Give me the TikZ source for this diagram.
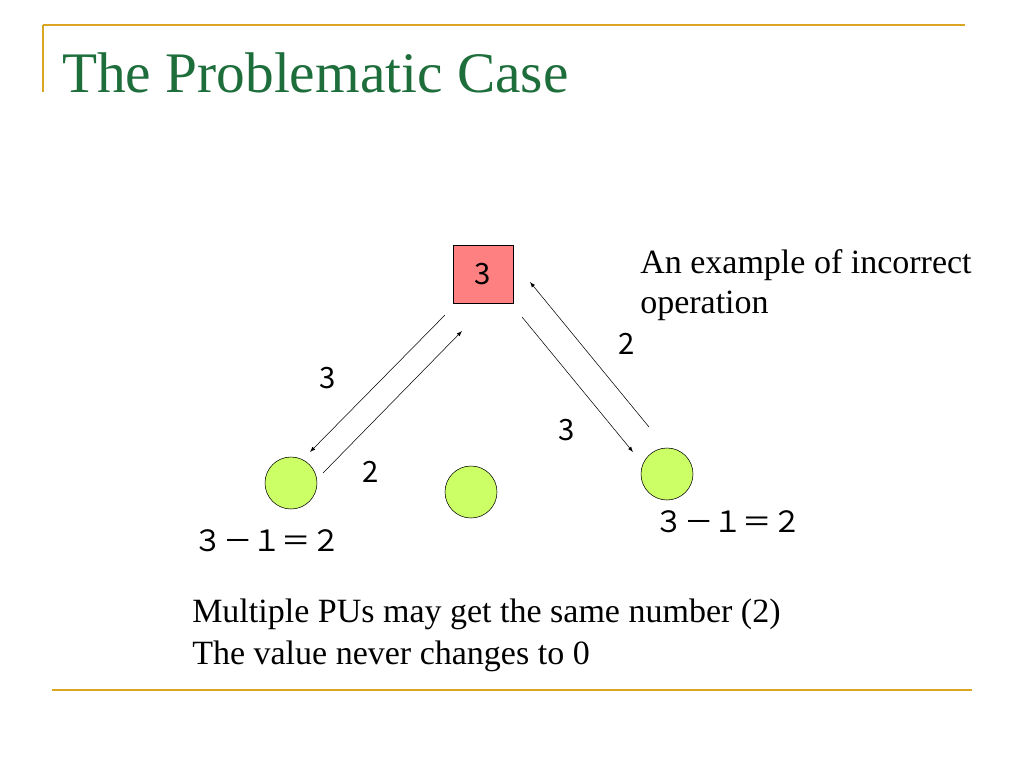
\documentclass[tikz,border=0pt]{standalone}
\usepackage{fontspec}
\setmainfont{Liberation Serif}
\newfontfamily\cjk{Noto Sans CJK JP}
\definecolor{gold}{RGB}{218,165,32}
\definecolor{ttl}{RGB}{30,110,60}
\definecolor{sq}{RGB}{255,128,128}
\definecolor{ball}{RGB}{204,255,102}
\begin{document}
\begin{tikzpicture}[x=0.75pt,y=-0.75pt,
  pu/.style={circle,draw,fill=ball,minimum size=52*0.75pt,inner sep=0pt},
  lbl/.style={font=\cjk\fontsize{22}{26}\selectfont,inner sep=0pt},
  txt/.style={font=\fontsize{25.5}{31}\selectfont,anchor=base west,inner sep=0pt},
  arr/.style={-latex,thin}]
\useasboundingbox (0,0) rectangle (1024,768);
\draw[gold,line width=1.5pt] (43,25) -- (965,25);
\draw[gold,line width=1.5pt] (43,25) -- (43,92);
\draw[gold,line width=1.5pt] (52,690) -- (972,690);
\node[anchor=base west,inner sep=0pt,text=ttl,font=\fontsize{43}{50}\selectfont] (title) at (62,92) {The Problematic Case};
\node[draw,fill=sq,minimum width=60*0.75pt,minimum height=58*0.75pt,inner sep=0pt,font=\cjk\fontsize{22}{26}\selectfont] (root) at (483,274) {3};
\node[pu] (l) at (291,483) {};
\node[pu] (m) at (471,492) {};
\node[pu] (r) at (667,474) {};
\coordinate (a1) at (445,315); \coordinate (a2) at (310,452);
\coordinate (b1) at (323,473); \coordinate (b2) at (462,331);
\coordinate (c1) at (522,317); \coordinate (c2) at (633,452);
\coordinate (d1) at (649,427); \coordinate (d2) at (530,282);
\draw[arr] (a1) -- (a2);
\draw[arr] (b1) -- (b2);
\draw[arr] (c1) -- (c2);
\draw[arr] (d1) -- (d2);
\node[lbl] (t1) at (328,378) {3};
\node[lbl] (t2) at (371,472) {2};
\node[lbl] (t3) at (567,430) {3};
\node[lbl] (t4) at (627,344) {2};
\node[lbl] (e1) at (267,541) {３－１＝２};
\node[lbl] (e2) at (728,522) {３－１＝２};
\node[txt] (ex1) at (640,273) {An example of incorrect};
\node[txt] (ex2) at (640,313) {operation};
\node[txt] (bt1) at (192,622) {Multiple PUs may get the same number (2)};
\node[txt] (bt2) at (192,664) {The value never changes to 0};
\end{tikzpicture}
\end{document}
